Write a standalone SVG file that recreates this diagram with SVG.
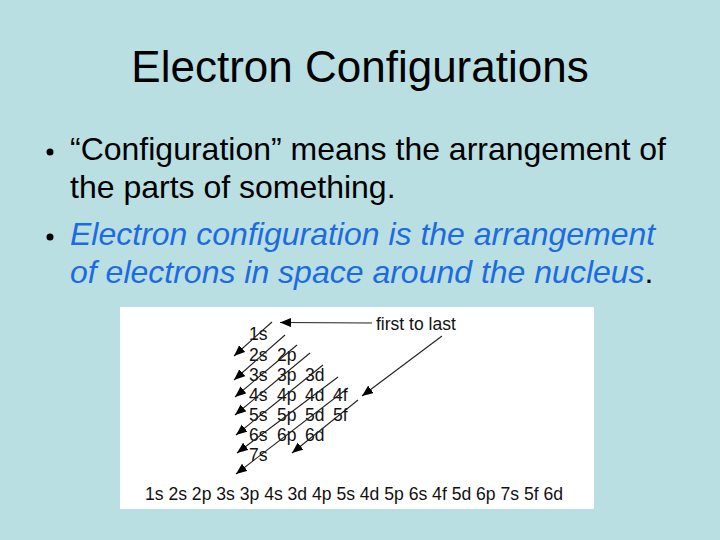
<svg xmlns="http://www.w3.org/2000/svg" width="720" height="540" viewBox="0 0 720 540">
<defs>
<style>
.title{font-family:"Liberation Sans",Arial,sans-serif;font-size:44px;fill:#000}
.body{font-family:"Liberation Sans",Arial,sans-serif;font-size:32px;fill:#000}
.blue{fill:#1E6BE0;font-style:italic}
.lbl{font-family:"Liberation Sans",Arial,sans-serif;font-size:17.5px;fill:#111}
.arr{stroke:#222;stroke-width:1.1;fill:none;marker-end:url(#ah)}
</style>
<marker id="ah" markerUnits="userSpaceOnUse" markerWidth="12" markerHeight="10" refX="11" refY="4.5" orient="auto">
<path d="M0,0 L11,4.5 L0,9 z" fill="#000"/>
</marker>
</defs>
<rect x="0" y="0" width="720" height="540" fill="#B9DFE3"/>
<g id="title"><text class="title" x="360" y="82" text-anchor="middle">Electron Configurations</text></g>
<g id="bullets">
<circle cx="50" cy="152" r="3.5" fill="#000"/>
<text class="body" x="70" y="160">“Configuration” means the arrangement of</text>
<text class="body" x="70" y="198">the parts of something.</text>
<circle cx="50" cy="237" r="3.5" fill="#000"/>
<text class="body blue" x="70" y="245">Electron configuration is the arrangement</text>
<text class="body" x="70" y="283"><tspan class="blue">of electrons in space around the nucleus</tspan>.</text>
</g>
<g id="panel">
<rect x="120" y="307" width="474" height="202" fill="#fff"/>
</g>
<g id="labels">
<text class="lbl" x="249" y="340">1s</text>
<text class="lbl" x="249" y="360.5">2s</text><text class="lbl" x="277" y="360.5">2p</text>
<text class="lbl" x="249" y="380.5">3s</text><text class="lbl" x="277" y="380.5">3p</text><text class="lbl" x="305" y="380.5">3d</text>
<text class="lbl" x="249" y="400.5">4s</text><text class="lbl" x="277" y="400.5">4p</text><text class="lbl" x="305" y="400.5">4d</text><text class="lbl" x="333" y="400.5">4f</text>
<text class="lbl" x="249" y="420.5">5s</text><text class="lbl" x="277" y="420.5">5p</text><text class="lbl" x="305" y="420.5">5d</text><text class="lbl" x="333" y="420.5">5f</text>
<text class="lbl" x="249" y="441">6s</text><text class="lbl" x="277" y="441">6p</text><text class="lbl" x="305" y="441">6d</text>
<text class="lbl" x="249" y="461">7s</text>
<text class="lbl" x="376" y="330">first to last</text>
<text class="lbl" x="145" y="500" textLength="418" lengthAdjust="spacingAndGlyphs">1s 2s 2p 3s 3p 4s 3d 4p 5s 4d 5p 6s 4f 5d 6p 7s 5f 6d</text>
</g>
<g id="connectors">
<line class="arr" x1="272" y1="322" x2="234" y2="356"/>
<line class="arr" x1="285" y1="335" x2="234" y2="380"/>
<line class="arr" x1="297" y1="345" x2="235" y2="397"/>
<line class="arr" x1="310" y1="353" x2="235" y2="415"/>
<line class="arr" x1="323" y1="365" x2="236" y2="435"/>
<line class="arr" x1="338" y1="377" x2="237" y2="453"/>
<line class="arr" x1="348" y1="388" x2="236" y2="474"/>
<line class="arr" x1="358" y1="400" x2="292" y2="453"/>
<line class="arr" x1="372" y1="323" x2="280" y2="322.5"/>
<line class="arr" x1="442" y1="336" x2="362" y2="396"/>
</g>
</svg>
